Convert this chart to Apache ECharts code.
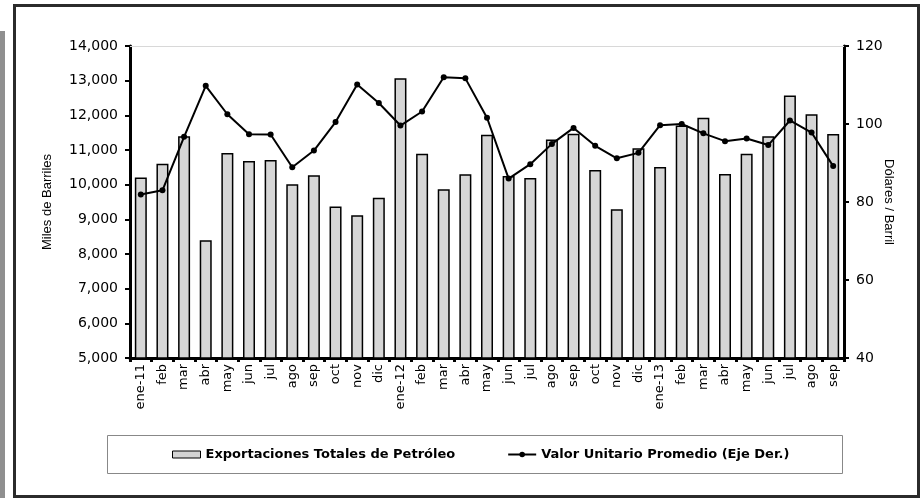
<!DOCTYPE html>
<html>
<head>
<meta charset="utf-8">
<script src="https://cdn.jsdelivr.net/npm/echarts@6/dist/echarts.min.js"></script>
<style>
  html, body { margin: 0; padding: 0; background: #fff; }
  #main { width: 921px; height: 498px; }
</style>
</head>
<body>
<div id="main"></div>
<script>
// meses ene-11 .. sep-13
var meses = ['ene-11', 'feb', 'mar', 'abr', 'may', 'jun', 'jul', 'ago', 'sep', 'oct', 'nov', 'dic',
  'ene-12', 'feb', 'mar', 'abr', 'may', 'jun', 'jul', 'ago', 'sep', 'oct', 'nov', 'dic',
  'ene-13', 'feb', 'mar', 'abr', 'may', 'jun', 'jul', 'ago', 'sep'];

// miles de barriles
var exportaciones = [10210, 10600, 11400, 8400, 10910, 10680, 10710, 10010, 10270, 9370, 9120, 9620,
  13070, 10890, 9870, 10300, 11440, 10250, 10190, 11300, 11470, 10420, 9290, 11050,
  10510, 11710, 11930, 10310, 10890, 11400, 12570, 12030, 11460];

// dolares / barril
var valorUnitario = [81.9, 83.0, 96.7, 109.8, 102.5, 97.4, 97.3, 88.9, 93.2, 100.5, 110.1, 105.4,
  99.6, 103.2, 112.0, 111.7, 101.6, 86.0, 89.7, 94.9, 99.0, 94.4, 91.2, 92.6,
  99.7, 100.0, 97.6, 95.6, 96.3, 94.6, 100.9, 97.8, 89.2];

var font = 'DejaVu Sans, Liberation Sans, sans-serif';
var fontName = 'Liberation Sans, Arial, sans-serif';

var chart = echarts.init(document.getElementById('main'));
var option = {
  backgroundColor: '#fff',
  animation: false,
  textStyle: { fontFamily: font, color: '#000' },
  graphic: [
    { type: 'rect', left: 0, top: 31, shape: { width: 5, height: 467 }, style: { fill: '#8f8f8f' } },
    { type: 'rect', left: 12, top: 3, shape: { width: 904, height: 491 },
      style: { fill: 'none', stroke: '#2b2b2b', lineWidth: 3 } },
    { type: 'rect', left: 105, top: 433, shape: { width: 735, height: 38 },
      style: { fill: 'none', stroke: '#888', lineWidth: 1 } }
  ],
  grid: { left: 130, right: 77, top: 46, bottom: 140 },
  legend: {
    left: 167, top: 443,
    itemGap: 52,
    itemWidth: 28, itemHeight: 7,
    textStyle: { fontFamily: font, fontSize: 13, fontWeight: 'bold', color: '#000' },
    data: [
      { name: 'Exportaciones Totales de Petróleo', icon: 'rect',
        itemStyle: { color: '#d4d4d4', borderColor: '#000', borderWidth: 1 } },
      { name: 'Valor Unitario Promedio (Eje Der.)' }
    ]
  },
  xAxis: [
    {
      type: 'category',
      data: meses,
      axisLine: { lineStyle: { color: '#000', width: 3 } },
      axisTick: { show: true, length: 4, lineStyle: { color: '#000', width: 3 } },
      axisLabel: { rotate: 90, fontSize: 13, color: '#000', margin: 6, fontFamily: font }
    },
    {
      type: 'category',
      data: meses,
      position: 'top',
      axisLine: { lineStyle: { color: '#d8d8d8', width: 1 } },
      axisTick: { show: false },
      axisLabel: { show: false }
    }
  ],
  yAxis: [
    {
      type: 'value',
      min: 5000, max: 14000, interval: 1000,
      name: 'Miles de Barriles',
      nameLocation: 'middle',
      nameGap: 76,
      nameMoveOverlap: false,
      nameTextStyle: { fontSize: 13, color: '#000', fontFamily: fontName },
      axisLine: { show: true, lineStyle: { color: '#000', width: 3 } },
      axisTick: { show: true, length: 5, lineStyle: { color: '#000', width: 2 } },
      axisLabel: {
        fontSize: 14, color: '#000', margin: 12, fontFamily: font,
        formatter: function (v) { return v.toLocaleString('en-US'); }
      },
      splitLine: { show: false }
    },
    {
      type: 'value',
      min: 40, max: 120, interval: 20,
      name: 'Dólares / Barril',
      nameLocation: 'middle',
      nameGap: 38,
      nameRotate: -90,
      nameMoveOverlap: false,
      nameTextStyle: { fontSize: 13, color: '#000', fontFamily: fontName },
      axisLine: { show: true, lineStyle: { color: '#000', width: 3 } },
      axisTick: { show: true, length: 5, lineStyle: { color: '#000', width: 2 } },
      axisLabel: { fontSize: 14, color: '#000', margin: 12, fontFamily: font },
      splitLine: { show: false }
    }
  ],
  series: [
    {
      name: 'Exportaciones Totales de Petróleo',
      type: 'bar',
      data: exportaciones,
      barWidth: 12,
      itemStyle: { color: '#d6d6d6', borderColor: '#000', borderWidth: 1.5 }
    },
    {
      name: 'Valor Unitario Promedio (Eje Der.)',
      type: 'line',
      yAxisIndex: 1,
      data: valorUnitario,
      symbol: 'circle',
      symbolSize: 6,
      lineStyle: { color: '#000', width: 2 },
      itemStyle: { color: '#000' }
    }
  ]
};
chart.setOption(option);
</script>
</body>
</html>
